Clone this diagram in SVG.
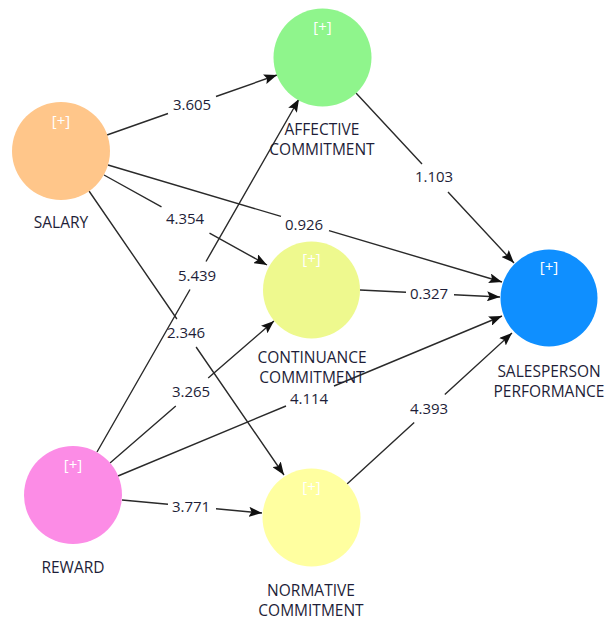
<svg xmlns="http://www.w3.org/2000/svg" width="608" height="620" viewBox="0 0 608 620">
<style>
.e{fill:none;stroke:#2a2a2a;stroke-width:1.4}
.n{font-family:"Open Sans","Liberation Sans",sans-serif;font-size:15px;fill:#1e1e38;text-anchor:middle}
.l{font-family:"Open Sans","Liberation Sans",sans-serif;font-size:15.5px;fill:#1e1e38;text-anchor:middle}
.p{font-family:"Open Sans","Liberation Sans",sans-serif;font-size:15px;fill:#ffffff;text-anchor:middle}
</style>
<defs>
<marker id="ah" markerUnits="userSpaceOnUse" viewBox="0 0 13 10" refX="13" refY="5" markerWidth="13" markerHeight="10" orient="auto">
<path d="M0,0 L13,5 L0,10 L2.5,5 z" fill="#111"/>
</marker>
</defs>
<rect width="608" height="620" fill="#ffffff"/>
<g id="connectors">
<path class="e" marker-end="url(#ah)" d="M107,135 L168,113.5 M216,96.5 L277,75"/>
<path class="e" marker-end="url(#ah)" d="M108,165 L281,216.4 M329,230.6 L502,282"/>
<path class="e" marker-end="url(#ah)" d="M104,175 L161.5,206.8 M209.5,233.2 L267,265"/>
<path class="e" marker-end="url(#ah)" d="M89,191 L176.9,319 M196.1,347 L284,475"/>
<path class="e" marker-end="url(#ah)" d="M97,452 L190,289.5 M206,261.5 L299,99"/>
<path class="e" marker-end="url(#ah)" d="M110,463 L175.8,406 M208.2,378 L274,321"/>
<path class="e" marker-end="url(#ah)" d="M118,476 L286,406 M334,386 L502,316"/>
<path class="e" marker-end="url(#ah)" d="M122,500 L168,504.3 M216,508.7 L262,513"/>
<path class="e" marker-end="url(#ah)" d="M356,93 L422,164 M448,192 L514,263"/>
<path class="e" marker-end="url(#ah)" d="M360,290 L406,292.3 M454,294.7 L500,297"/>
<path class="e" marker-end="url(#ah)" d="M347,484 L414.2,422.5 M444.8,394.5 L512,333"/>
<text class="n" x="192" y="110">3.605</text>
<text class="n" x="304" y="230">0.926</text>
<text class="n" x="185" y="224">4.354</text>
<text class="n" x="186" y="338">2.346</text>
<text class="n" x="197" y="281">5.439</text>
<text class="n" x="191" y="397">3.265</text>
<text class="n" x="309" y="404">4.114</text>
<text class="n" x="191" y="512">3.771</text>
<text class="n" x="434" y="182">1.103</text>
<text class="n" x="429" y="299">0.327</text>
<text class="n" x="429" y="414">4.393</text>
</g>
<g id="salary">
<circle cx="61" cy="151" r="49" fill="#FFC68A"/>
<text class="p" x="61" y="126">[+]</text>
<text class="l" x="61" y="228">SALARY</text>
</g>
<g id="affective">
<circle cx="322.5" cy="57.5" r="49" fill="#8FF58C"/>
<text class="p" x="322.5" y="32">[+]</text>
<text class="l" x="322" y="135">AFFECTIVE</text>
<text class="l" x="322" y="155">COMMITMENT</text>
</g>
<g id="continuance">
<circle cx="311.5" cy="290" r="48.5" fill="#EEF98E"/>
<text class="p" x="311.5" y="264">[+]</text>
<text class="l" x="312" y="363">CONTINUANCE</text>
<text class="l" x="312" y="383">COMMITMENT</text>
</g>
<g id="normative">
<circle cx="311.5" cy="517.5" r="49" fill="#FFFFA0"/>
<text class="p" x="311.5" y="492">[+]</text>
<text class="l" x="311" y="596">NORMATIVE</text>
<text class="l" x="311" y="616">COMMITMENT</text>
</g>
<g id="reward">
<circle cx="73" cy="495" r="49" fill="#FC8CE6"/>
<text class="p" x="73" y="470">[+]</text>
<text class="l" x="73" y="573">REWARD</text>
</g>
<g id="salesperson">
<circle cx="549" cy="298" r="48.5" fill="#0F8FFF"/>
<text class="p" x="549" y="272">[+]</text>
<text class="l" x="549" y="377">SALESPERSON</text>
<text class="l" x="549" y="397">PERFORMANCE</text>
</g>
</svg>
